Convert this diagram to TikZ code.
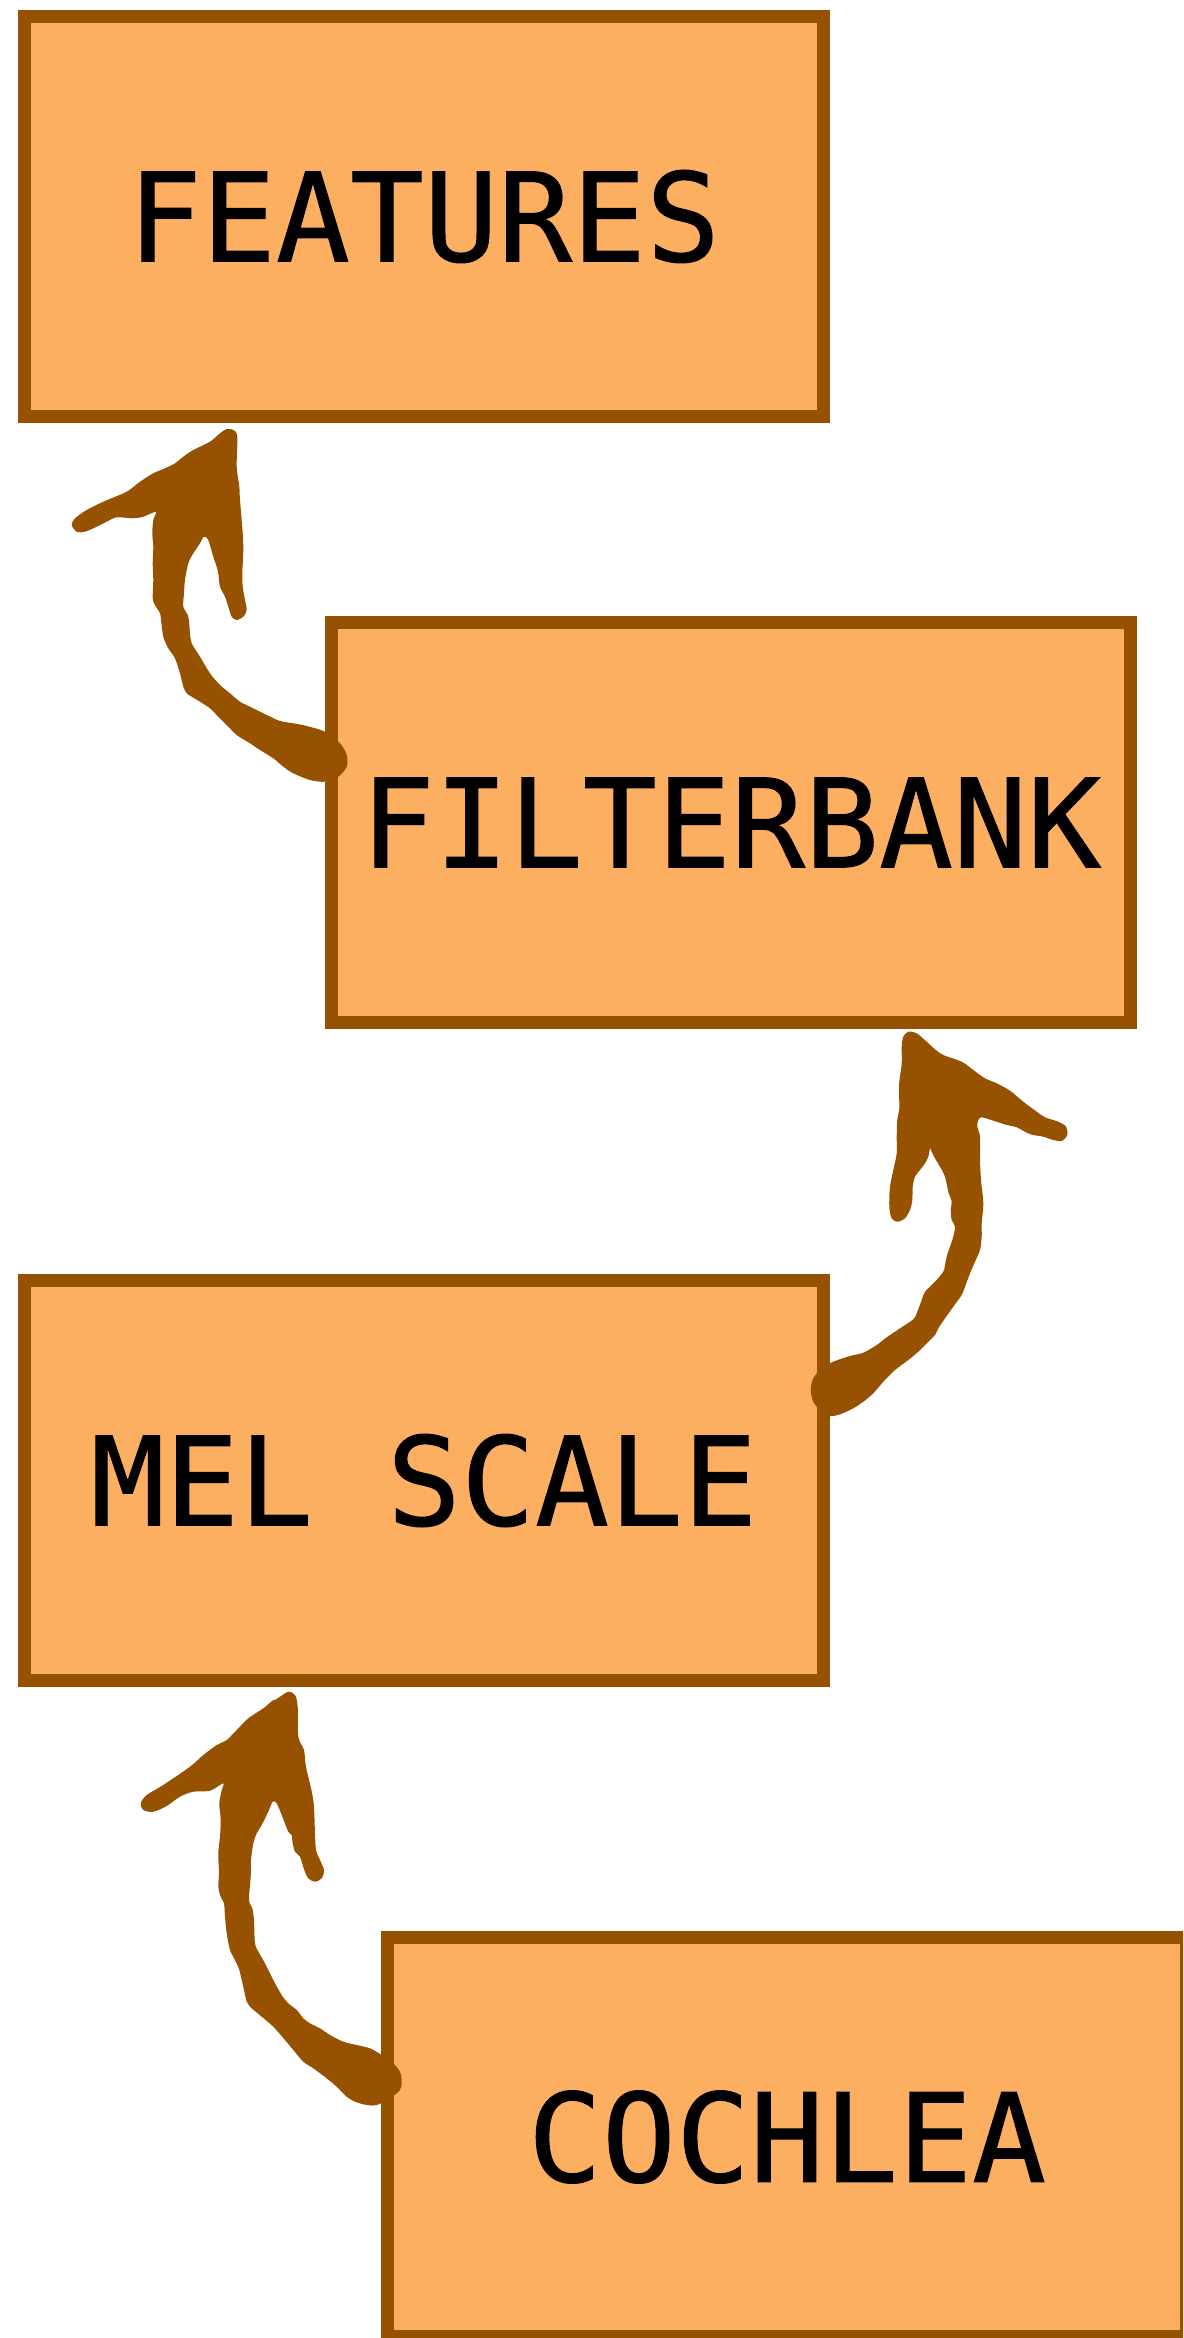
\documentclass[tikz,border=0pt]{standalone}
\usepackage{fontspec}
\newfontfamily\boxfont[FakeBold=0.8]{DejaVu Sans Mono}
\definecolor{boxfill}{RGB}{252,174,97}
\definecolor{rust}{RGB}{150,82,0}
\begin{document}
\begin{tikzpicture}[x=0.02cm,y=-0.02cm,
  stage/.style={draw=rust, fill=boxfill, line width=0.26cm,
    minimum width=16cm, minimum height=8cm, inner sep=0pt, outer sep=0pt,
    font={\boxfont\fontsize{70}{84}\selectfont}},
  brush/.style={fill=rust, draw=none}]
\clip (0,0) rectangle (1183,2338);
\fill[white] (0,0) rectangle (1183,2338);

% processing stages
\node[stage] (features)   at (424,216.5)  {FEATURES};
\node[stage] (filterbank) at (731,822.5)  {FILTERBANK};
\node[stage] (melscale)   at (424,1480.5) {MEL SCALE};
\node[stage] (cochlea)    at (787,2137)   {COCHLEA};

% brush arrow: filterbank -> features
\fill[brush] plot[smooth cycle, tension=0.5] coordinates {
 (233.3,430) (237.3,436.7) (236.7,466.7) (239.3,486.7) (240,500) (242.7,533.3)
 (243.3,550) (242.3,573.3) (242.7,586.7) (245,600) (246.7,610) (243.3,616.7)
 (236.7,620) (231.7,616.7) (228.3,606.7) (225,596.7) (220,586.7) (218.3,573.3)
 (216.7,566.7) (213.3,556.7) (208.3,540) (204,536.7) (200,543.3) (193.3,553.3)
 (188.3,563.3) (185,580) (184,593.3) (183.3,606.7) (188.3,616.7) (190,633.3)
 (191.7,643.3) (200,656.7) (210,673.3) (220,685) (230,693.3) (240,701.7)
 (253.3,708.3) (266.7,715) (280,721) (293.3,723.3) (306.7,726) (325,731.7)
 (340,743.3) (346.7,755) (346.7,766.7) (338.3,776.7) (325,781.7) (310,780)
 (293.3,773.3) (283.3,766.7) (273.3,758.3) (260,750) (250,743.3) (236.7,735)
 (226.7,725) (216.7,715) (210,708.3) (200,701.7) (191.7,696.7) (186.7,693.3)
 (183.3,686.7) (180,673.3) (175,658.3) (168.3,648.3) (163.3,636.7) (161,620)
 (160,613.3) (154,603.3) (152.7,596.7) (153.3,580) (152.7,563.3) (153.3,546.7)
 (152.3,533.3) (153.3,520) (156,511.7) (143.3,516.7) (133.3,518.3) (116.7,517.3)
 (106.7,521.7) (96.7,526.7) (85,531.7) (76.7,531.7) (71.7,525) (75,518.3)
 (86.7,510) (103.3,501.7) (126.7,491.7) (140,481.7) (153.3,473.3) (165,468.3)
 (175,463.3) (183.3,456.7) (193.3,450) (210,441.7) (220,433.3) (226.7,429)};

% brush arrow: mel scale -> filterbank
\fill[brush] plot[smooth cycle, tension=0.5] coordinates {
 (908.3,1031.7) (916.7,1033.3) (926.7,1041.7) (935,1049.3) (943.3,1055)
 (961.7,1061.7) (973.3,1070) (985,1078.3) (996.7,1083.3) (1010,1090.7)
 (1023.3,1101.7) (1036.7,1111.7) (1045,1117.3) (1058.3,1121.7) (1066,1126.7)
 (1067.3,1135) (1061.7,1141) (1053.3,1140) (1043.3,1136.7) (1033.3,1135)
 (1026.7,1132.7) (1016.7,1127.3) (1006.7,1125) (993.3,1120.7) (981.7,1117.3)
 (978.3,1120) (977.3,1126.7) (980,1136.7) (980,1160) (981,1180) (983.3,1203.3)
 (981.7,1223.3) (981.7,1236.7) (980,1250) (975,1261.7) (970,1273.3) (965,1286.7)
 (961.7,1295) (953.3,1306.7) (945,1318.3) (938.3,1328.3) (935,1335) (926.7,1343.3)
 (918.3,1351.7) (908.3,1360) (895,1370) (883.3,1381.7) (873.3,1393.3)
 (863.3,1401.7) (853.3,1408.3) (840,1414.3) (830,1416) (820,1410) (813.3,1401.7)
 (810.7,1390) (813.3,1378.3) (821.7,1368.3) (833.3,1361.7) (850,1356)
 (863.3,1352.7) (876.7,1345) (886.7,1337.3) (900,1328.3) (913.3,1319.3)
 (916.7,1313.3) (921.7,1300) (925,1291.7) (935,1281.7) (943.3,1271.7) (945,1265)
 (946.7,1256.7) (950,1246.7) (953.3,1236.7) (955,1226.7) (951.7,1220) (950.7,1210)
 (951.7,1201.7) (948.3,1191.7) (945,1176.7) (940,1166.7) (935,1158.3)
 (931.7,1151.7) (930,1148.3) (928.3,1156.7) (925,1163.3) (920,1170) (915,1176.7)
 (912.7,1186.7) (912.3,1200) (910,1210) (905,1218.3) (897.3,1221.7) (891.7,1218.3)
 (889.3,1206.7) (890,1186.7) (893.3,1170) (896.7,1153.3) (896.7,1136.7) (897.3,1120)
 (899.3,1108.3) (899,1093.3) (899.3,1081.7) (901.7,1063.3) (901.7,1046.7)
 (903.3,1036.7)};

% brush arrow: cochlea -> mel scale
\fill[brush] plot[smooth cycle, tension=0.5] coordinates {
 (288.3,1691.7) (295,1695) (297.7,1706.7) (298.3,1736.7) (304,1750) (306,1766.7)
 (313.3,1800) (315,1833.3) (316,1850) (320,1860) (324,1870) (321.7,1878.3)
 (315,1881.7) (308.3,1878.3) (304.3,1870) (300,1856.7) (295,1851.7) (292.7,1843.3)
 (291.7,1835) (288.3,1831.7) (281.7,1815) (276.7,1803.3) (272.7,1801.7)
 (268.3,1811.7) (261.7,1825) (256.7,1833.3) (253.3,1843.3) (251,1860) (250.7,1876.7)
 (249,1900) (252.3,1908.3) (254,1920) (255,1943.3) (259.3,1953.3) (265,1963.3)
 (273.3,1980) (281.7,1995) (288.3,2003.3) (296.7,2010) (303.3,2018.3) (310,2023.3)
 (320,2028.3) (330,2035) (343.3,2041.7) (356.7,2045) (370,2048.3) (381.7,2055)
 (391.7,2061.7) (400,2071.7) (401.7,2081.7) (400,2090) (390,2098.3) (376.7,2105)
 (366.7,2105) (355,2101.7) (346.7,2096.7) (336.7,2086.7) (326.7,2078.3)
 (313.3,2068.3) (303.3,2061.7) (293.3,2050) (285,2040) (273.3,2026.7) (261.7,2016.7)
 (250,2006.7) (246.7,2001.7) (243.3,1986.7) (239.3,1970) (235,1960) (230,1950)
 (226.7,1933.3) (225,1916.7) (224,1903.3) (220.7,1896.7) (218.3,1886.7) (219,1873.3)
 (218.3,1853.3) (220,1836.7) (220.7,1820) (219.3,1803.3) (221.7,1790) (223.3,1783.3)
 (210,1790.7) (193.3,1791.7) (180,1796.7) (166.7,1806) (153.3,1811.7) (143.3,1810)
 (140.7,1803.3) (146.7,1795) (163.3,1785) (190,1766.7) (203.3,1755) (216.7,1745)
 (226.7,1740) (236.7,1730) (248.3,1718.3) (263.3,1708.3) (273.3,1700) (275,1700)
 (280,1696.7)};
\end{tikzpicture}
\end{document}
